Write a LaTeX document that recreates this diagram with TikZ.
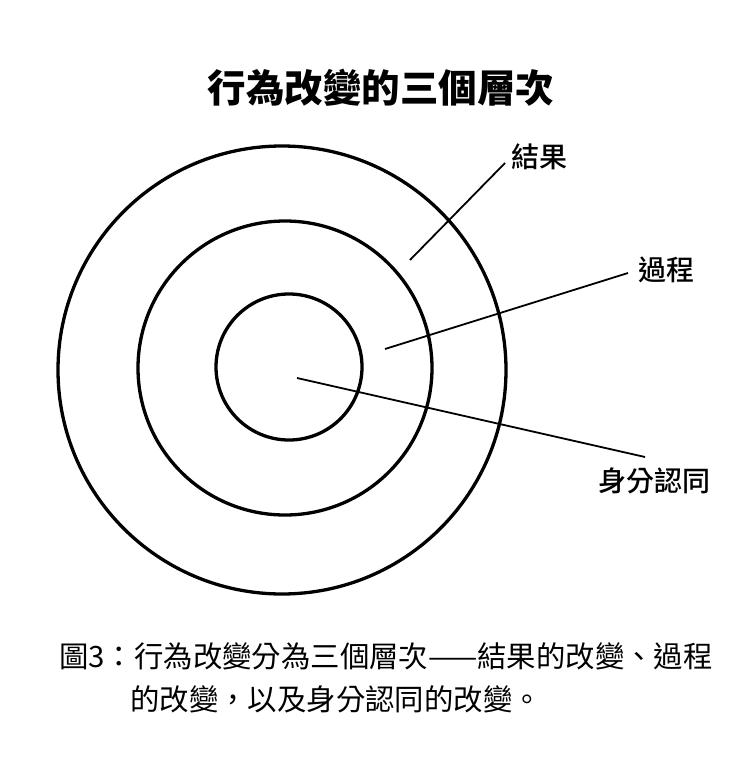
\documentclass[tikz,border=0pt]{standalone}
\usepackage{fontspec}
\newfontfamily\cjk{Noto Sans CJK TC}
\newfontfamily\cjkmid{Noto Sans CJK TC Medium}
\newfontfamily\cjkbold{Noto Sans CJK TC Black}
\usetikzlibrary{positioning}
\tikzset
{
    ring/.style      = {draw=black, line width=3.3pt},
    leader/.style    = {draw=black, line width=1.8pt},
    ringlabel/.style = {font=\cjkmid\fontsize{28}{32}\selectfont, inner sep=0pt},
    heading/.style   = {font=\cjkbold\fontsize{38.5}{44}\selectfont, inner sep=0pt},
    caption/.style   = {font=\cjk\fontsize{29.4}{34}\selectfont, inner sep=0pt, anchor=west}
}
\begin{document}
\begin{tikzpicture}[x=1pt,y=-1pt]
\useasboundingbox (0,0) rectangle (740,765);
\node [heading] at (381,88) (title) {行為改變的三個層次};
% three rings
\coordinate (co) at (282,370);
\coordinate (cm) at (285,368);
\coordinate (ci) at (289,367);
\draw [ring] (co) circle [radius=224pt];
\draw [ring] (cm) circle [radius=147pt];
\draw [ring] (ci) circle [radius=73pt];
% leaders
\coordinate (resin) at (410,260);
\coordinate (resout) at (505,163);
\coordinate (procin) at (385,349);
\coordinate (procout) at (628,273);
\coordinate (idin) at (297,378);
\coordinate (idout) at (645,457);
\node [ringlabel] at (539,157) (res) {結果};
\node [ringlabel] at (666,270) (proc) {過程};
\node [ringlabel] at (654,481) (id) {身分認同};
\draw [leader] (resin) -- (resout);
\draw [leader] (procin) -- (procout);
\draw [leader] (idin) -- (idout);
\node [caption] at (59,656) (cap1) {圖3：行為改變分為三個層次——結果的改變、過程};
\node [caption] at (130,699) (cap2) {的改變，以及身分認同的改變。};
\end{tikzpicture}
\end{document}
